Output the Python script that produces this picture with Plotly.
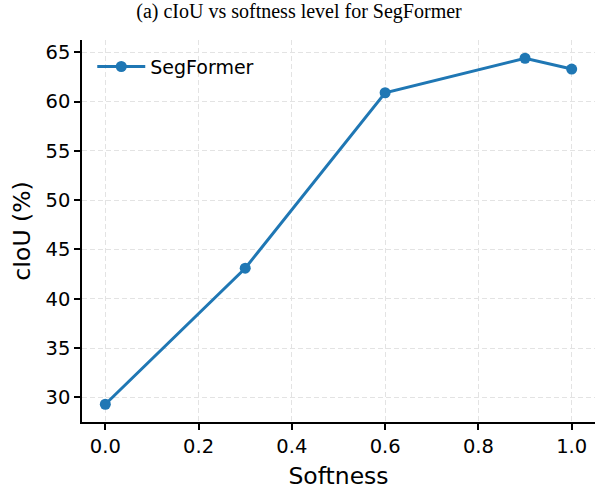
import plotly.graph_objects as go

softness = [0.0, 0.3, 0.6, 0.9, 1.0]
ciou = [29.3, 43.1, 60.9, 64.4, 63.3]
x_ticks = [0.0, 0.2, 0.4, 0.6, 0.8, 1.0]
x_tick_labels = ["0.0", "0.2", "0.4", "0.6", "0.8", "1.0"]
y_ticks = [30, 35, 40, 45, 50, 55, 60, 65]

fig = go.Figure()
fig.add_trace(go.Scatter(
    x=softness, y=ciou, mode="lines+markers", name="SegFormer",
    line=dict(color="#1f77b4", width=3),
    marker=dict(color="#1f77b4", size=11),
))

font = "DejaVu Sans, sans-serif"
grid = "#e3e3e3"
fig.update_layout(
    width=598, height=490,
    margin=dict(l=82, r=3, t=40, b=68),
    paper_bgcolor="white", plot_bgcolor="white",
    title=dict(text="(a) cIoU vs softness level for SegFormer",
               font=dict(family="Liberation Serif, Times New Roman, serif", size=20, color="black"),
               x=0.5, xanchor="center", y=0.977, yanchor="middle", xref="container"),
    showlegend=True,
    legend=dict(x=0.02, y=0.98, xanchor="left", yanchor="top", itemwidth=48,
                font=dict(family=font, size=19, color="black"),
                bgcolor="rgba(0,0,0,0)"),
    xaxis=dict(range=[-0.05, 1.05], tickvals=x_ticks, ticktext=x_tick_labels,
               showline=True, linecolor="black", linewidth=1.5, mirror=False,
               ticks="outside", ticklen=6, tickwidth=1.5, tickcolor="black",
               showgrid=True, gridcolor=grid, griddash="5px,3px", gridwidth=1,
               zeroline=False,
               tickfont=dict(family=font, size=19.5, color="black"),
               title=dict(text="Softness", font=dict(family=font, size=23.5, color="black"), standoff=10)),
    yaxis=dict(range=[27.5, 66.25], tickvals=y_ticks,
               showline=True, linecolor="black", linewidth=1.5, mirror=False,
               ticks="outside", ticklen=6, tickwidth=1.5, tickcolor="black",
               showgrid=True, gridcolor=grid, griddash="5px,3px", gridwidth=1,
               zeroline=False,
               tickfont=dict(family=font, size=19.5, color="black"),
               title=dict(text="cIoU (%)", font=dict(family=font, size=23.5, color="black"), standoff=8)),
)

fig.write_html("out.html")
